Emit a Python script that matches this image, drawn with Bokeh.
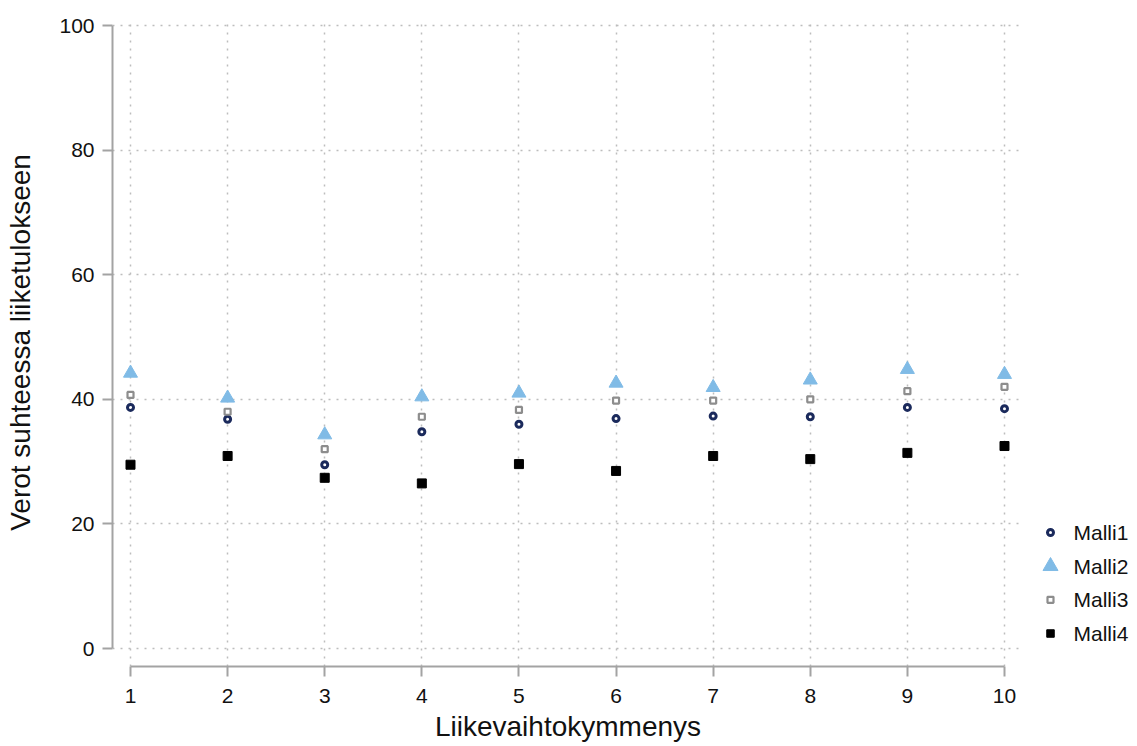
from bokeh.plotting import figure
from bokeh.layouts import row
from bokeh.models import Range1d, FixedTicker
from bokeh.core.properties import value
from bokeh.embed import file_html
from bokeh.resources import INLINE

deciles = [1, 2, 3, 4, 5, 6, 7, 8, 9, 10]
malli1 = [38.7, 36.8, 29.5, 34.8, 36.0, 36.9, 37.3, 37.2, 38.7, 38.5]
malli2 = [44.2, 40.2, 34.3, 40.4, 41.0, 42.6, 41.9, 43.1, 44.8, 44.0]
malli3 = [40.7, 38.0, 32.0, 37.2, 38.3, 39.8, 39.8, 40.0, 41.3, 42.0]
malli4 = [29.5, 30.9, 27.4, 26.5, 29.6, 28.5, 30.9, 30.4, 31.4, 32.5]
series_names = ["Malli1", "Malli2", "Malli3", "Malli4"]
x_ticks = [1, 2, 3, 4, 5, 6, 7, 8, 9, 10]
y_ticks = [0, 20, 40, 60, 80, 100]

FONT = "Liberation Sans"
TEXT_COL = "#111111"
AXIS_COL = "#a3a3a3"

styles = [
    dict(marker="circle", size=6, fill_color="white", line_color="#1b2a5c", line_width=3),
    dict(marker="triangle", size=14, fill_color="#80bbe6", line_color="#80bbe6", line_width=1),
    dict(marker="square", size=6, fill_color="white", line_color="#8d8d8d", line_width=2.2),
    dict(marker="square", size=9, fill_color="black", line_color="black", line_width=1),
]
legend_sizes = [6, 15, 6, 7.5]

BORDERS = dict(min_border_top=18, min_border_bottom=80)

# ---- main plot: frame 112..1023 x 18..666 ----
p = figure(width=1023, height=746, output_backend="svg", toolbar_location=None,
           x_range=Range1d(0.8146, 10.1957), y_range=Range1d(-2.889, 101.124),
           min_border_left=112, min_border_right=0, **BORDERS)
p.outline_line_color = None
p.background_fill_color = "white"
p.border_fill_color = "white"

for ys, st in zip([malli1, malli2, malli3, malli4], styles):
    p.scatter(deciles, ys, **st)

for ax in (p.xaxis[0], p.yaxis[0]):
    ax.axis_line_color = AXIS_COL
    ax.axis_line_width = 2
    ax.major_tick_line_color = AXIS_COL
    ax.major_tick_line_width = 2
    ax.major_tick_out = 10
    ax.major_tick_in = 0
    ax.minor_tick_line_color = None
    ax.major_label_text_font = FONT
    ax.major_label_text_font_size = "21px"
    ax.major_label_text_color = TEXT_COL
    ax.axis_label_text_font = FONT
    ax.axis_label_text_font_size = "28px"
    ax.axis_label_text_font_style = "normal"
    ax.axis_label_text_color = TEXT_COL

p.xaxis.ticker = FixedTicker(ticks=x_ticks)
p.yaxis.ticker = FixedTicker(ticks=y_ticks)
p.xaxis.bounds = (x_ticks[0], x_ticks[-1])
p.yaxis.bounds = (y_ticks[0], y_ticks[-1])
p.xaxis.axis_label = "Liikevaihtokymmenys"
p.yaxis.axis_label = "Verot suhteessa liiketulokseen"
p.xaxis.major_label_standoff = 12
p.xaxis.axis_label_standoff = 5
p.yaxis.major_label_standoff = 8
p.yaxis.axis_label_standoff = 20

for g in (p.xgrid[0], p.ygrid[0]):
    g.grid_line_color = "#bdbdbd"
    g.grid_line_dash = "2 6"
    g.grid_line_width = 1.5
p.xgrid.ticker = FixedTicker(ticks=x_ticks)
p.ygrid.ticker = FixedTicker(ticks=y_ticks)

# ---- legend panel on the right (keys keep their own sizes) ----
# rows are indexed 0..3 from the top; first row at y=532, 33.67 px per row
legend_rows = list(range(len(series_names)))
leg = figure(width=114, height=746, output_backend="svg", toolbar_location=None,
             x_range=Range1d(0, 114), y_range=Range1d(3.98, -15.27),
             x_axis_type=None, y_axis_type=None,
             min_border_left=0, min_border_right=0, **BORDERS)
leg.outline_line_color = None
leg.grid.visible = False
leg.border_fill_color = "white"
for i, st, ls in zip(legend_rows, styles, legend_sizes):
    key = dict(st)
    key["size"] = ls
    leg.scatter(x=[27], y=[i], **key)
leg.text(x=[50] * len(series_names), y=legend_rows, text=series_names,
         text_font=value(FONT), text_font_size="21px", text_color=TEXT_COL,
         text_baseline="middle", text_align="left")

layout = row(p, leg)
open("out.html", "w").write(file_html(layout, INLINE))
